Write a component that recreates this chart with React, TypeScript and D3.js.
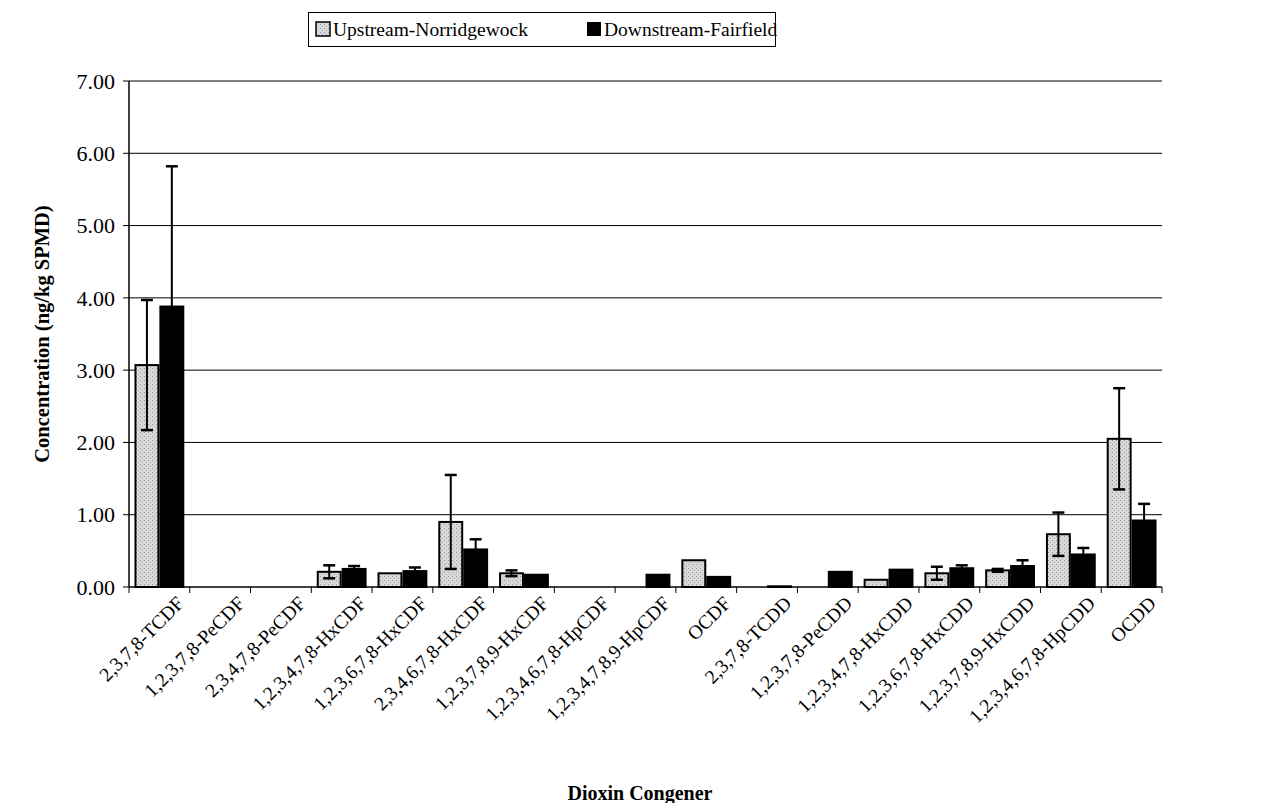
import { useEffect } from 'react';
import * as d3 from 'd3';

const categories = [
  '2,3,7,8-TCDF', '1,2,3,7,8-PeCDF', '2,3,4,7,8-PeCDF', '1,2,3,4,7,8-HxCDF',
  '1,2,3,6,7,8-HxCDF', '2,3,4,6,7,8-HxCDF', '1,2,3,7,8,9-HxCDF', '1,2,3,4,6,7,8-HpCDF',
  '1,2,3,4,7,8,9-HpCDF', 'OCDF', '2,3,7,8-TCDD', '1,2,3,7,8-PeCDD',
  '1,2,3,4,7,8-HxCDD', '1,2,3,6,7,8-HxCDD', '1,2,3,7,8,9-HxCDD', '1,2,3,4,6,7,8-HpCDD', 'OCDD',
];
const upstream = [3.07, 0, 0, 0.21, 0.19, 0.9, 0.19, 0, 0, 0.37, 0, 0, 0.1, 0.19, 0.23, 0.73, 2.05];
const upstreamErr = [0.9, null, null, 0.09, null, 0.65, 0.04, null, null, null, null, null, null, 0.09, 0.02, 0.3, 0.7];
const downstream = [3.88, 0, 0, 0.25, 0.22, 0.52, 0.17, 0, 0.17, 0.14, 0.01, 0.21, 0.24, 0.26, 0.29, 0.45, 0.92];
const downstreamErr = [1.94, null, null, 0.04, 0.05, 0.14, null, null, null, null, null, null, null, 0.04, 0.08, 0.09, 0.23];
const yTicks = [0, 1, 2, 3, 4, 5, 6, 7];
const seriesNames = ['Upstream-Norridgewock', 'Downstream-Fairfield'];

const FONT = '"Liberation Serif", "Times New Roman", serif';

export default function App() {
  useEffect(() => {
    document.body.style.margin = '0';
  }, []);

  const left = 129, right = 1162, top = 81, bottom = 587;
  const x = d3.scaleBand().domain(categories).range([left, right]).paddingInner(0.18).paddingOuter(0.09);
  const xs = d3.scaleBand().domain(['up', 'down']).range([0, x.bandwidth()]);
  const y = d3.scaleLinear().domain([0, 7]).range([bottom, top]);
  const step = (right - left) / categories.length;

  const errBar = (cx: number, v: number, e: number | null, key: string) => {
    if (e == null) return null;
    const hi = y(v + e), lo = y(Math.max(0, v - e));
    return (
      <g key={key} stroke="#000">
        <line x1={cx} x2={cx} y1={hi} y2={lo} strokeWidth={2} />
        <line x1={cx - 6} x2={cx + 6} y1={hi} y2={hi} strokeWidth={2.5} />
        <line x1={cx - 6} x2={cx + 6} y1={lo} y2={lo} strokeWidth={2.5} />
      </g>
    );
  };

  return (
    <svg width={1266} height={803} style={{ display: 'block', background: '#fff' }} fontFamily={FONT}>
      <defs>
        <pattern id="stip" width="4" height="4" patternUnits="userSpaceOnUse">
          <rect width="4" height="4" fill="#d8d8d8" />
          <rect x="0" y="0" width="1" height="1" fill="#9a9a9a" />
          <rect x="2" y="2" width="1" height="1" fill="#b0b0b0" />
        </pattern>
      </defs>

      {/* gridlines */}
      {yTicks.filter((t) => t > 0).map((t) => (
        <line key={t} x1={left} x2={right} y1={y(t)} y2={y(t)} stroke="#000" strokeWidth={1} />
      ))}

      {/* bars */}
      {categories.map((c, i) => {
        const x0 = x(c)!;
        const bw = xs.bandwidth();
        const ux = x0 + xs('up')!, dx = x0 + xs('down')!;
        return (
          <g key={c}>
            {upstream[i] > 0 && (
              <rect x={ux + 1} y={y(upstream[i])} width={bw - 2} height={bottom - y(upstream[i])}
                fill="url(#stip)" stroke="#000" strokeWidth={2} />
            )}
            {downstream[i] > 0 && (
              <rect x={dx + 1} y={y(downstream[i])} width={bw - 2} height={bottom - y(downstream[i])}
                fill="#000" stroke="#000" strokeWidth={2} />
            )}
            {errBar(ux + bw / 2, upstream[i], upstreamErr[i], 'u')}
            {errBar(dx + bw / 2, downstream[i], downstreamErr[i], 'd')}
          </g>
        );
      })}

      {/* axes */}
      <line x1={left} x2={left} y1={top} y2={bottom} stroke="#000" strokeWidth={1.5} />
      <line x1={left} x2={right} y1={bottom} y2={bottom} stroke="#000" strokeWidth={1.5} />
      {yTicks.map((t) => (
        <g key={t}>
          <line x1={left - 6} x2={left} y1={y(t)} y2={y(t)} stroke="#000" />
          <text x={left - 14} y={y(t)} dy="0.35em" textAnchor="end" fontSize={22}>{t.toFixed(2)}</text>
        </g>
      ))}
      {d3.range(categories.length + 1).map((i) => (
        <line key={i} x1={left + i * step} x2={left + i * step} y1={bottom} y2={bottom + 6} stroke="#000" />
      ))}
      {categories.map((c) => {
        const cx = x(c)! + x.bandwidth() / 2;
        return (
          <text key={c} transform={`translate(${cx + 16},${bottom + 8}) rotate(-45)`} textAnchor="end"
            dy="0.7em" fontSize={19.5}>{c}</text>
        );
      })}

      {/* titles */}
      <text transform={`translate(42,${(top + bottom) / 2}) rotate(-90)`} textAnchor="middle" fontSize={20.5}
        fontWeight="bold" dy="0.35em">Concentration (ng/kg SPMD)</text>
      <text x={640} y={800} textAnchor="middle" fontSize={20} fontWeight="bold">Dioxin Congener</text>

      {/* legend */}
      <rect x={308.5} y={12.5} width={467} height={34} fill="#fff" stroke="#000" />
      <rect x={316} y={22} width={14} height={14} fill="url(#stip)" stroke="#000" strokeWidth={1.5} />
      <text x={333} y={29} dy="0.35em" fontSize={19.5}>{seriesNames[0]}</text>
      <rect x={587} y={22} width={14} height={14} fill="#000" />
      <text x={604} y={29} dy="0.35em" fontSize={19.5}>{seriesNames[1]}</text>
    </svg>
  );
}
